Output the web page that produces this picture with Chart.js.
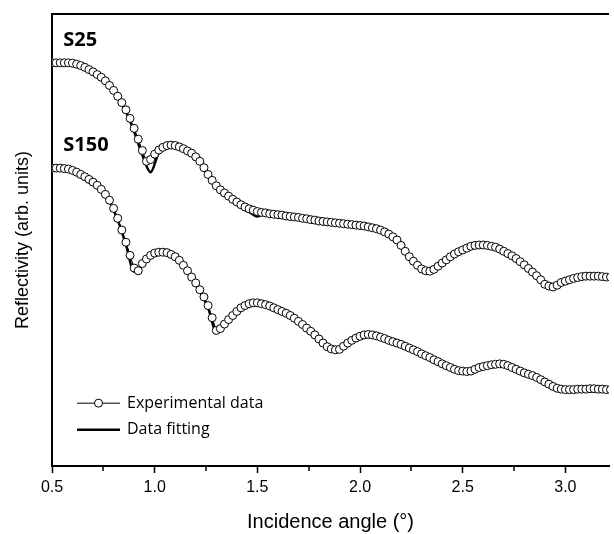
<!DOCTYPE html>
<html>
<head>
<meta charset="utf-8">
<script src="https://cdn.jsdelivr.net/npm/chart.js@4"></script>
<style>
  body { margin: 0; background: #fff; }
  #caja { width: 614px; height: 534px; }
</style>
</head>
<body>
<div id="caja"><canvas id="grafico"></canvas></div>
<script>
// Ángulos de incidencia (°) de los datos experimentales
const angulosExp = [0.50, 0.52, 0.54, 0.56, 0.58, 0.60, 0.62, 0.64, 0.66, 0.68, 0.70, 0.72, 0.74,
  0.76, 0.78, 0.80, 0.82, 0.84, 0.86, 0.88, 0.90, 0.92, 0.94, 0.96, 0.98, 1.00, 1.02, 1.04, 1.06,
  1.08, 1.10, 1.12, 1.14, 1.16, 1.18, 1.20, 1.22, 1.24, 1.26, 1.28, 1.30, 1.32, 1.34, 1.36, 1.38,
  1.40, 1.42, 1.44, 1.46, 1.48, 1.50, 1.52, 1.54, 1.56, 1.58, 1.60, 1.62, 1.64, 1.66, 1.68, 1.70,
  1.72, 1.74, 1.76, 1.78, 1.80, 1.82, 1.84, 1.86, 1.88, 1.90, 1.92, 1.94, 1.96, 1.98, 2.00, 2.02,
  2.04, 2.06, 2.08, 2.10, 2.12, 2.14, 2.16, 2.18, 2.20, 2.22, 2.24, 2.26, 2.28, 2.30, 2.32, 2.34,
  2.36, 2.38, 2.40, 2.42, 2.44, 2.46, 2.48, 2.50, 2.52, 2.54, 2.56, 2.58, 2.60, 2.62, 2.64, 2.66,
  2.68, 2.70, 2.72, 2.74, 2.76, 2.78, 2.80, 2.82, 2.84, 2.86, 2.88, 2.90, 2.92, 2.94, 2.96, 2.98,
  3.00, 3.02, 3.04, 3.06, 3.08, 3.10, 3.12, 3.14, 3.16, 3.18, 3.20, 3.22];

// Ángulos de incidencia (°) de las curvas de ajuste
const angulosFit = [0.50, 0.54, 0.58, 0.62, 0.66, 0.70, 0.74, 0.78, 0.82, 0.86, 0.90, 0.94, 0.98,
  1.02, 1.06, 1.10, 1.14, 1.18, 1.22, 1.26, 1.30, 1.34, 1.38, 1.42, 1.46, 1.50, 1.54, 1.58,
  1.62, 1.66, 1.70, 1.74, 1.78, 1.82, 1.86, 1.90, 1.94, 1.98, 2.02, 2.06, 2.10, 2.14, 2.18,
  2.22, 2.26, 2.30, 2.34, 2.38, 2.42, 2.46, 2.50, 2.54, 2.58, 2.62, 2.66, 2.70, 2.74, 2.78,
  2.82, 2.86, 2.90, 2.94, 2.98, 3.02, 3.06, 3.10, 3.14, 3.18, 3.22];

// Muestra S25 (unidades arbitrarias)
const s25Exp = [8.92, 8.92, 8.92, 8.92, 8.92, 8.91, 8.89, 8.86, 8.82, 8.77, 8.72, 8.66, 8.60,
  8.52, 8.42, 8.31, 8.18, 8.04, 7.88, 7.69, 7.47, 7.23, 6.98, 6.74, 6.78, 6.90, 6.99, 7.05, 7.09,
  7.10, 7.09, 7.06, 7.02, 6.97, 6.92, 6.84, 6.74, 6.60, 6.45, 6.32, 6.20, 6.11, 6.04, 5.97, 5.90,
  5.84, 5.78, 5.73, 5.69, 5.66, 5.63, 5.61, 5.60, 5.58, 5.57, 5.56, 5.55, 5.53, 5.52, 5.51, 5.50,
  5.48, 5.47, 5.45, 5.44, 5.42, 5.41, 5.40, 5.39, 5.38, 5.37, 5.36, 5.35, 5.34, 5.33, 5.32, 5.31,
  5.29, 5.27, 5.25, 5.22, 5.18, 5.13, 5.07, 5.00, 4.88, 4.75, 4.63, 4.53, 4.44, 4.36, 4.32, 4.31,
  4.35, 4.42, 4.49, 4.56, 4.63, 4.69, 4.74, 4.78, 4.82, 4.86, 4.88, 4.89, 4.89, 4.88, 4.86, 4.84,
  4.80, 4.75, 4.70, 4.65, 4.59, 4.52, 4.45, 4.37, 4.29, 4.21, 4.12, 4.02, 3.98, 3.96, 4.00, 4.06,
  4.09, 4.12, 4.15, 4.17, 4.19, 4.20, 4.20, 4.20, 4.20, 4.19, 4.18, 4.18];
const s25Fit = [8.90, 8.90, 8.90, 8.87, 8.80, 8.70, 8.57, 8.39, 8.15, 7.84, 7.40, 6.88, 6.50,
  6.93, 7.08, 7.08, 7.01, 6.90, 6.72, 6.43, 6.18, 6.01, 5.86, 5.72, 5.62, 5.52, 5.58, 5.56,
  5.54, 5.51, 5.49, 5.46, 5.43, 5.40, 5.38, 5.36, 5.34, 5.32, 5.29, 5.25, 5.19, 5.10, 4.96,
  4.73, 4.52, 4.37, 4.33, 4.42, 4.56, 4.68, 4.78, 4.85, 4.88, 4.87, 4.82, 4.74, 4.63, 4.50,
  4.36, 4.22, 4.07, 4.01, 4.05, 4.11, 4.16, 4.19, 4.20, 4.19, 4.18];

// Muestra S150 (unidades arbitrarias)
const s150Exp = [6.59, 6.59, 6.59, 6.58, 6.57, 6.54, 6.50, 6.45, 6.40, 6.34, 6.28, 6.21, 6.12,
  6.01, 5.88, 5.70, 5.48, 5.22, 4.95, 4.66, 4.38, 4.32, 4.48, 4.58, 4.66, 4.71, 4.73, 4.73, 4.72,
  4.68, 4.63, 4.55, 4.44, 4.32, 4.18, 4.05, 3.90, 3.74, 3.55, 3.28, 3.00, 3.04, 3.14, 3.24, 3.33,
  3.42, 3.50, 3.55, 3.59, 3.61, 3.61, 3.59, 3.57, 3.54, 3.50, 3.46, 3.42, 3.38, 3.33, 3.27, 3.20,
  3.13, 3.05, 2.98, 2.90, 2.81, 2.72, 2.64, 2.59, 2.57, 2.58, 2.65, 2.72, 2.78, 2.83, 2.87, 2.90,
  2.91, 2.90, 2.88, 2.85, 2.82, 2.78, 2.75, 2.72, 2.69, 2.65, 2.61, 2.57, 2.53, 2.48, 2.44, 2.40,
  2.35, 2.31, 2.26, 2.22, 2.18, 2.14, 2.11, 2.10, 2.09, 2.10, 2.14, 2.18, 2.20, 2.22, 2.24, 2.25,
  2.26, 2.25, 2.22, 2.18, 2.14, 2.10, 2.06, 2.03, 2.00, 1.96, 1.91, 1.86, 1.81, 1.76, 1.72, 1.70,
  1.69, 1.69, 1.69, 1.70, 1.70, 1.70, 1.71, 1.71, 1.70, 1.70, 1.69, 1.69];
const s150Fit = [6.58, 6.58, 6.56, 6.49, 6.39, 6.26, 6.10, 5.85, 5.44, 4.90, 4.30, 4.45, 4.64,
  4.72, 4.71, 4.61, 4.41, 4.15, 3.86, 3.50, 2.98, 3.12, 3.31, 3.48, 3.57, 3.59, 3.55, 3.48,
  3.40, 3.31, 3.18, 3.03, 2.88, 2.70, 2.58, 2.59, 2.72, 2.83, 2.89, 2.89, 2.84, 2.77, 2.71,
  2.64, 2.56, 2.47, 2.39, 2.30, 2.21, 2.14, 2.11, 2.12, 2.17, 2.22, 2.24, 2.23, 2.17, 2.09,
  2.02, 1.95, 1.86, 1.78, 1.72, 1.70, 1.70, 1.70, 1.70, 1.70, 1.70];

// Marcas menores del eje x
const ticksMenores = [0.75, 1.25, 1.75, 2.25, 2.75];

const fuente = '"Liberation Sans", Arial, sans-serif';
const fuenteTexto = '"Open Sans", sans-serif';

function puntos(xs, valores) {
  return xs.map((a, i) => ({ x: a, y: valores[i] }));
}

function serieExp(valores) {
  return {
    data: puntos(angulosExp, valores),
    borderColor: '#000',
    borderWidth: 1,
    pointRadius: 4,
    pointBorderWidth: 1,
    pointBorderColor: '#000',
    pointBackgroundColor: '#fff'
  };
}

function serieFit(valores) {
  return {
    data: puntos(angulosFit, valores),
    borderColor: '#000',
    borderWidth: 2.5,
    pointRadius: 0,
    cubicInterpolationMode: 'monotone'
  };
}

// Plugin: borde superior, marcas menores, nombres de muestras y leyenda
const decoraciones = {
  id: 'decoraciones',
  afterDraw(chart) {
    const { ctx, chartArea, scales } = chart;
    const x = scales.x, y = scales.y;
    ctx.save();
    ctx.strokeStyle = '#000';
    ctx.fillStyle = '#000';

    ctx.lineWidth = 2;
    ctx.beginPath();
    ctx.moveTo(chartArea.left - 1, chartArea.top);
    ctx.lineTo(chartArea.right, chartArea.top);
    ctx.stroke();

    ctx.lineWidth = 1.5;
    ticksMenores.forEach(v => {
      const px = Math.round(x.getPixelForValue(v));
      ctx.beginPath();
      ctx.moveTo(px, chartArea.bottom);
      ctx.lineTo(px, chartArea.bottom + 5);
      ctx.stroke();
    });

    ctx.font = 'bold 20px ' + fuenteTexto;
    ctx.textBaseline = 'middle';
    ctx.textAlign = 'left';
    ctx.fillText('S25', x.getPixelForValue(0.555), y.getPixelForValue(9.42));
    ctx.fillText('S150', x.getPixelForValue(0.555), y.getPixelForValue(7.10));

    // leyenda
    const x0 = chartArea.left + 25, x1 = chartArea.left + 68;
    const yA = y.getPixelForValue(1.39), yB = y.getPixelForValue(0.80);
    ctx.lineWidth = 1;
    ctx.beginPath();
    ctx.moveTo(x0, yA); ctx.lineTo(x1, yA);
    ctx.stroke();
    ctx.beginPath();
    ctx.arc((x0 + x1) / 2, yA, 4, 0, Math.PI * 2);
    ctx.fillStyle = '#fff';
    ctx.fill();
    ctx.stroke();
    ctx.lineWidth = 2.5;
    ctx.beginPath();
    ctx.moveTo(x0, yB); ctx.lineTo(x1, yB);
    ctx.stroke();
    ctx.fillStyle = '#000';
    ctx.font = '16px ' + fuenteTexto;
    ctx.fillText('Experimental data', x1 + 7, yA);
    ctx.fillText('Data fitting', x1 + 7, yB);
    ctx.restore();
  }
};

const ctx = document.getElementById('grafico').getContext('2d');
const chart = new Chart(ctx, {
  type: 'line',
  data: {
    datasets: [
      serieExp(s25Exp), serieFit(s25Fit),
      serieExp(s150Exp), serieFit(s150Fit)
    ]
  },
  options: {
    responsive: true,
    maintainAspectRatio: false,
    animation: false,
    layout: { padding: { top: 14, right: 0, bottom: 0, left: 0 } },
    plugins: {
      legend: { display: false },
      tooltip: { enabled: false }
    },
    scales: {
      x: {
        type: 'linear',
        min: 0.5,
        max: 3.2125,
        afterFit(scale) { scale.height = 68; },
        border: { display: true, color: '#000', width: 2 },
        grid: { drawOnChartArea: false, drawTicks: true, tickLength: 7, tickColor: '#000', tickWidth: 1.5 },
        ticks: {
          stepSize: 0.5,
          includeBounds: false,
          padding: 5,
          color: '#000',
          font: { family: fuente, size: 16 },
          maxRotation: 0,
          callback: v => v.toFixed(1)
        },
        title: {
          display: true,
          text: 'Incidence angle (°)',
          color: '#000',
          font: { family: fuente, size: 20 },
          padding: { top: 0, bottom: 0 }
        }
      },
      y: {
        min: 0,
        max: 10,
        afterFit(scale) { scale.width = 52; },
        border: { display: true, color: '#000', width: 2 },
        grid: { drawOnChartArea: false, drawTicks: false },
        ticks: { display: false },
        title: {
          display: true,
          text: 'Reflectivity (arb. units)',
          color: '#000',
          font: { family: fuente, size: 18 },
          padding: { top: 12, bottom: 0 }
        }
      }
    }
  },
  plugins: [decoraciones]
});
</script>
</body>
</html>
